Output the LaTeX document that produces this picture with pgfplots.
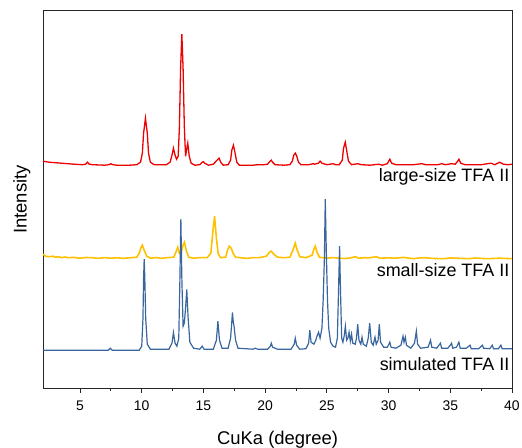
\documentclass[border=0pt]{standalone}
\usepackage{pgfplots}
\pgfplotsset{compat=1.18}
\usepackage{fontspec}
\setmainfont{Liberation Sans}
\definecolor{cred}{RGB}{236,0,0}
\definecolor{cyel}{RGB}{255,192,0}
\definecolor{cblu}{RGB}{58,102,158}
\begin{document}
\begin{tikzpicture}
\begin{axis}[
  scale only axis,
  width=469bp, height=377.5bp,
  xmin=2, xmax=40, ymin=0, ymax=377.5,
  xtick={5,10,...,40},
  minor x tick num=1,
  ytick=\empty,
  xtick pos=bottom,
  tick align=outside,
  major tick length=5bp,
  minor tick length=2.5bp,
  axis line style={line width=1pt, black!85},
  every tick/.style={black!85, line width=0.8pt},
  tick label style={font=\fontsize{14}{16}\selectfont},
  xticklabel style={yshift=-4bp},
  /pgf/number format/assume math mode=true,
  xlabel={CuKa (degree)},
  ylabel={Intensity},
  label style={font=\fontsize{18.5}{20}\selectfont},
  xlabel style={yshift=-14bp},
  ylabel style={yshift=4bp},
]
% large-size
\addplot[cred, line width=1.3pt] coordinates {
(2.0,227)(2.5,226)(3,225.5)(3.5,225)(4,224.5)(4.5,224)(5.2,223.5)(5.45,224)(5.6,226)(5.75,224)(6,223.5)(7,223)(7.35,223.5)(7.5,224.5)(7.65,223.5)(8,223)(9,223)(9.6,223.5)(9.9,226)(10.05,235)(10.15,255)(10.3,270)(10.45,255)(10.55,235)(10.7,226)(11,223.5)(12,223.5)(12.3,226)(12.45,233)(12.57,240)(12.7,233)(12.82,229)(12.95,232)(13.05,260)(13.15,320)(13.25,354)(13.35,320)(13.45,262)(13.55,232)(13.6,236)(13.73,245)(13.85,232)(14.0,225)(14.3,223)(14.7,223.5)(14.9,226)(15.0,226.5)(15.1,225)(15.4,223)(15.8,224)(16.1,228)(16.27,230)(16.4,226)(16.6,223)(17.0,223.5)(17.2,228)(17.3,238)(17.43,243)(17.55,236)(17.7,226)(17.9,223)(19,223)(19.4,223.5)(19.9,223.5)(20.2,224)(20.4,227)(20.5,228)(20.6,226)(20.8,223.5)(21.5,223)(22.0,223.5)(22.2,227)(22.32,233)(22.44,235)(22.56,232)(22.7,226)(22.9,223.5)(23.5,223.5)(23.9,224.5)(24.0,224)(24.3,225)(24.46,227)(24.6,225)(25.0,223.5)(25.5,224.5)(25.7,223.5)(26.0,223.5)(26.25,228)(26.35,240)(26.49,246)(26.6,238)(26.75,227)(27.0,223.5)(27.5,224.5)(27.8,223.5)(28.5,223)(29.2,224)(29.5,223)(29.9,224.5)(30.1,229)(30.25,225)(30.6,223.5)(31.5,223.5)(32.0,223.5)(32.7,224.5)(33.0,223.5)(34.0,223.5)(34.3,224.5)(34.6,223.5)(35.1,224.5)(35.4,224)(35.6,227)(35.7,229)(35.85,225)(36.2,223.5)(37.5,223.5)(38.3,225)(38.6,223.5)(39.0,226)(39.3,224)(39.7,223.5)(40,224)
};
% small-size
\addplot[cyel, line width=1.6pt] coordinates {
(2.0,134)(2.2,132)(2.5,131.5)(2.8,132)(3,131)(3.3,131.5)(3.5,130.5)(3.8,131.2)(4,130.5)(4.5,130.8)(5,130)(5.5,130.7)(6,130.5)(6.5,129.8)(7,130.6)(7.5,130)(8,130.4)(8.5,129.8)(9,130.4)(9.6,131)(9.8,135)(9.95,141)(10.05,143)(10.2,138)(10.4,132)(10.7,130)(11.2,130.6)(11.6,129.8)(12,130.5)(12.6,131)(12.8,137)(12.92,141)(13.05,135)(13.2,136)(13.35,143)(13.46,146)(13.6,138)(13.8,131)(14.2,130)(14.7,130.6)(15.3,130.5)(15.6,135)(15.75,155)(15.9,172)(16.05,150)(16.2,134)(16.4,130.5)(16.8,131)(16.95,138)(17.1,142)(17.25,140)(17.4,135)(17.6,131)(18,130.5)(18.5,129.8)(19,130.6)(19.5,130.5)(20.1,132)(20.35,136)(20.5,137)(20.7,134)(21,131)(21.5,130.5)(22.0,131)(22.25,138)(22.44,145)(22.6,138)(22.8,131.5)(23.3,130.5)(23.8,133)(23.95,139)(24.06,142)(24.2,136)(24.4,131)(25,130)(25.5,130.6)(26,130)(26.5,129.7)(27.0,130.5)(27.3,131.5)(27.6,130)(28,130.4)(28.5,130.5)(29.0,131.5)(29.3,130)(30,130.4)(30.5,130)(31.2,130.8)(32.0,129.5)(32.5,130.3)(33.0,130.5)(33.5,129.8)(34.5,129.5)(35,130.3)(35.5,130)(36.5,129.5)(37,130.2)(38,129.5)(39,130)(40,129.5)
};
% simulated
\addplot[cblu, line width=1.2pt] coordinates {
(2,38)(7.3,38)(7.45,40)(7.6,38)(9.8,38)(10.0,42)(10.1,70)(10.15,110)(10.2,129)(10.25,110)(10.32,70)(10.45,44)(10.7,39)(12.2,39)(12.45,45)(12.57,55.7)(12.7,45)(12.85,42)(13.0,50)(13.08,100)(13.17,169)(13.25,110)(13.35,62)(13.45,65)(13.55,80)(13.65,98.7)(13.75,72)(13.9,46)(14.2,40)(14.7,39)(14.9,42)(15.05,39)(15.8,39)(16.05,48)(16.17,67)(16.3,48)(16.5,40)(17.0,40)(17.2,50)(17.35,75.7)(17.42,66)(17.48,62)(17.6,48)(17.8,40)(19.0,39)(19.2,40)(19.4,39)(20.2,39)(20.42,42)(20.5,45)(20.6,41)(21,39)(22.1,39)(22.35,44)(22.44,50)(22.55,43)(22.8,39)(23.3,39.5)(23.52,45)(23.62,58)(23.72,46)(23.95,44)(24.1,48)(24.2,52)(24.33,56)(24.45,50)(24.6,60)(24.7,88)(24.8,130)(24.87,189)(24.95,140)(25.05,88)(25.15,60)(25.3,46)(25.5,42)(25.7,41)(25.85,50)(25.95,100)(26.03,142)(26.1,100)(26.2,50)(26.3,46)(26.4,52)(26.5,62)(26.6,48)(26.7,50)(26.8,56)(26.9,47)(27.0,54)(27.1,45)(27.3,44)(27.4,50)(27.5,64)(27.6,48)(27.75,44)(27.85,51)(27.95,44)(28.2,42)(28.35,50)(28.47,65)(28.6,46)(28.75,43)(28.9,51)(29.0,44)(29.15,48)(29.25,64)(29.35,46)(29.6,41)(29.9,41)(30.02,44)(30.1,46)(30.2,41)(30.6,40)(31.0,43)(31.17,52)(31.25,46)(31.36,51)(31.45,43)(31.8,40)(32.1,45)(32.25,57)(32.35,44)(32.6,40)(33.2,41)(33.4,48)(33.5,41)(33.9,40)(34.2,45)(34.3,40)(34.8,40)(35.0,43)(35.1,45)(35.2,40)(35.5,41)(35.7,46)(35.8,40)(36.3,40)(36.6,43)(36.7,39.5)(37.3,39.5)(37.6,43)(37.7,40)(38.2,39.5)(38.4,43)(38.5,39.5)(38.9,39.5)(39.1,43)(39.2,39.5)(40,39.5)
};
\node[anchor=east, font=\fontsize{18}{20}\selectfont, inner sep=0pt] at (axis cs:39.8,211) {large-size TFA II};
\node[anchor=east, font=\fontsize{18}{20}\selectfont, inner sep=0pt] at (axis cs:39.8,118) {small-size TFA II};
\node[anchor=east, font=\fontsize{18}{20}\selectfont, inner sep=0pt] at (axis cs:39.8,24) {simulated TFA II};
\end{axis}
\pgfresetboundingbox
\path ([shift={(-43bp,-59bp)}]current axis.south west) rectangle ([shift={(10bp,10.7bp)}]current axis.north east);
\end{tikzpicture}
\end{document}
